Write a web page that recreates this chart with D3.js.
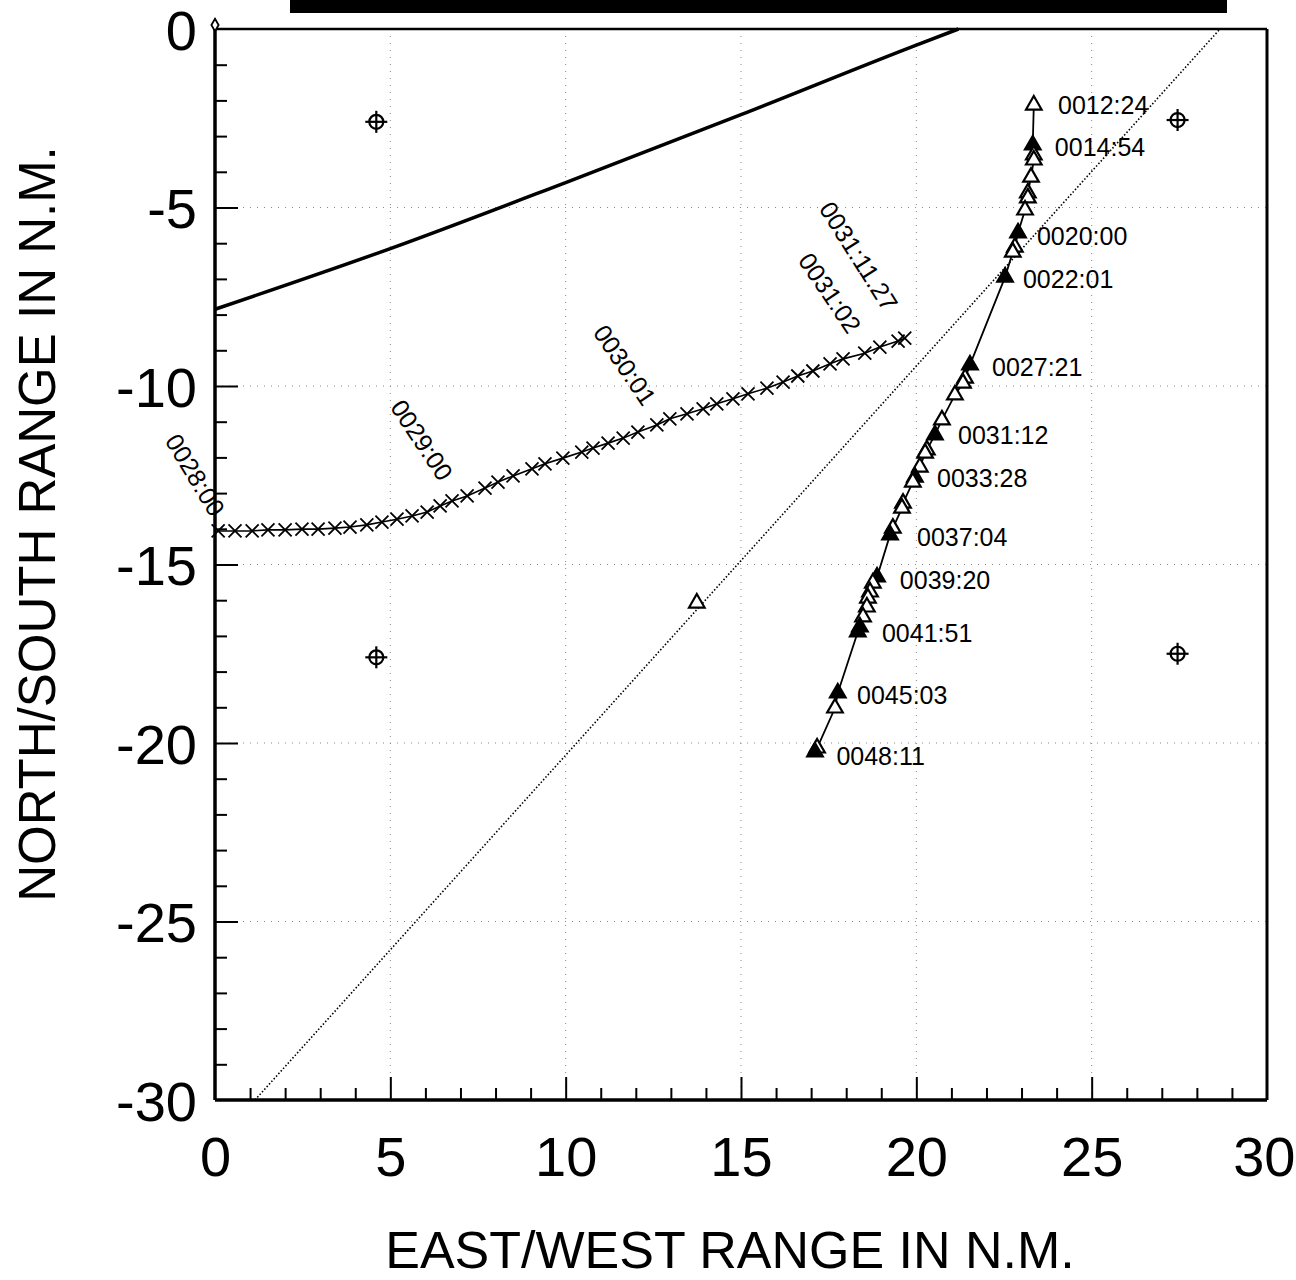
<!DOCTYPE html>
<html>
<head>
<meta charset="utf-8">
<script src="https://cdn.jsdelivr.net/npm/d3@7"></script>
<style>
  body { margin: 0; background: #fff; }
  svg { display: block; font-family: 'Liberation Sans', Arial, Helvetica, sans-serif; }
</style>
</head>
<body>
<script>
// ranges in N.M. (east/west on x, north/south on y)
var xTicks = [0, 5, 10, 15, 20, 25, 30]
var yTicks = [0, -5, -10, -15, -20, -25, -30]

// heavy solid line at the top
var boundaryX = [0, 5, 10, 15, 20, 21.2]
var boundaryY = [-7.85, -6.15, -4.3, -2.4, -0.45, 0]

// dotted straight line, with its single triangle
var dottedX = [1.14, 28.66]
var dottedY = [-30, 0]
var dottedMarkX = [13.74]
var dottedMarkY = [-16.08]

// track plotted with x marks
var crossX = [0.09, 0.57, 1.06, 1.51, 2.0, 2.48, 2.94, 3.42, 3.85, 4.33, 4.76, 5.19, 5.62, 6.05,
  6.42, 6.76, 7.19, 7.7, 8.07, 8.5, 9.04, 9.41, 9.92, 10.46, 10.78, 11.21, 11.64, 12.06, 12.6,
  12.97, 13.46, 13.92, 14.31, 14.77, 15.2, 15.74, 16.2, 16.62, 17.05, 17.54, 17.91, 18.53,
  18.96, 19.48, 19.67]
var crossY = [-14.06, -14.06, -14.06, -14.03, -14.03, -14.01, -14.01, -13.98, -13.95, -13.89,
  -13.81, -13.73, -13.64, -13.53, -13.36, -13.22, -13.08, -12.86, -12.69, -12.52, -12.32,
  -12.18, -12.02, -11.85, -11.74, -11.6, -11.46, -11.29, -11.09, -10.92, -10.78, -10.64,
  -10.5, -10.36, -10.22, -10.06, -9.89, -9.72, -9.58, -9.38, -9.24, -9.08, -8.91, -8.74, -8.66]
var crossLabels = ['0028:00', '0029:00', '0030:01', '0031:02', '0031:11.27']
var crossLabelX = [-0.56, 5.9, 11.69, 17.54, 18.36]
var crossLabelY = [-12.49, -11.51, -9.41, -7.39, -6.36]
var crossLabelAngle = [59, 56.5, 56, 56, 57.6]

// track plotted with triangles (1 = filled)
var triX = [23.35, 23.32, 23.35, 23.35, 23.27, 23.18, 23.18, 23.1, 22.9, 22.81, 22.75, 22.53,
  21.53, 21.39, 21.33, 21.1, 20.73, 20.53, 20.3, 20.25, 20.1, 19.96, 19.9, 19.62, 19.59, 19.33,
  19.25, 18.88, 18.76, 18.68, 18.62, 18.59, 18.48, 18.39, 18.33, 17.76, 17.68, 17.17, 17.11]
var triY = [-2.13, -3.25, -3.53, -3.67, -4.15, -4.59, -4.73, -5.07, -5.71, -6.11, -6.25, -6.95,
  -9.41, -9.78, -9.92, -10.25, -10.95, -11.37, -11.79, -11.88, -12.27, -12.55, -12.69, -13.28,
  -13.42, -13.98, -14.17, -15.35, -15.52, -15.77, -15.94, -16.19, -16.47, -16.75, -16.89,
  -18.6, -19.02, -20.14, -20.25]
var triFilled = [0, 1, 0, 0, 0, 0, 0, 0, 1, 0, 0, 1, 1, 0, 0, 0, 0, 1, 0, 0, 0, 1, 0, 0, 0, 0,
  1, 1, 0, 0, 0, 0, 0, 1, 1, 1, 0, 0, 1]
var triLabels = ['0012:24', '0014:54', '0020:00', '0022:01', '0027:21', '0031:12', '0033:28',
  '0037:04', '0039:20', '0041:51', '0045:03', '0048:11']
var triLabelX = [24.04, 23.95, 23.44, 23.04, 22.16, 21.19, 20.59, 20.02, 19.53, 19.02, 18.31, 17.72]
var triLabelY = [-2.13, -3.31, -5.8, -7.0, -9.47, -11.37, -12.58, -14.23, -15.43, -16.92, -18.66, -20.36]

// reference crosshairs
var refX = [4.6, 27.45, 4.6, 27.45]
var refY = [-2.6, -2.55, -17.6, -17.5]

var width = 1296
var height = 1280

var x = d3.scaleLinear().domain([0, 30]).range([215, 1267])
var y = d3.scaleLinear().domain([-30, 0]).range([1100, 29])

var svg = d3.select('body').append('svg')
  .attr('width', width)
  .attr('height', height)

// remnant of a title box at the very top
svg.append('rect')
  .attr('x', 290).attr('y', 0)
  .attr('width', 937).attr('height', 13)
  .attr('fill', '#000')

// dotted grid at the major ticks
var grid = svg.append('g')
  .attr('stroke', '#888')
  .attr('stroke-width', 1)
  .attr('stroke-dasharray', '1,6')
grid.selectAll('.gx').data(xTicks.slice(1, -1)).enter().append('line')
  .attr('x1', function (d) { return x(d) }).attr('x2', function (d) { return x(d) })
  .attr('y1', y(0)).attr('y2', y(-30))
grid.selectAll('.gy').data(yTicks.slice(1, -1)).enter().append('line')
  .attr('y1', function (d) { return y(d) }).attr('y2', function (d) { return y(d) })
  .attr('x1', x(0)).attr('x2', x(30))

// minor and major ticks, pointing inwards
var minor = d3.range(1, 30).filter(function (d) { return d % 5 })
var major = [5, 10, 15, 20, 25]

function styleTicks (g) {
  g.select('.domain').remove()
  g.selectAll('line').attr('stroke', '#000').attr('stroke-width', 2)
}

svg.append('g').attr('transform', 'translate(0,' + y(-30) + ')')
  .call(d3.axisBottom(x).tickValues(minor).tickSize(-12).tickFormat(''))
  .call(styleTicks)
svg.append('g').attr('transform', 'translate(0,' + y(-30) + ')')
  .call(d3.axisBottom(x).tickValues(major).tickSize(-23).tickFormat(''))
  .call(styleTicks)
svg.append('g').attr('transform', 'translate(' + x(0) + ',0)')
  .call(d3.axisLeft(y).tickValues(minor.map(function (d) { return -d })).tickSize(-12).tickFormat(''))
  .call(styleTicks)
svg.append('g').attr('transform', 'translate(' + x(0) + ',0)')
  .call(d3.axisLeft(y).tickValues(major.map(function (d) { return -d })).tickSize(-23).tickFormat(''))
  .call(styleTicks)

// tick labels
svg.append('g').attr('transform', 'translate(0,' + y(-30) + ')')
  .call(d3.axisBottom(x).tickValues(xTicks).tickSize(0).tickPadding(36).tickFormat(d3.format('d')))
  .call(function (g) {
    g.select('.domain').remove()
    g.selectAll('text').attr('font-size', 56).attr('font-family', null).attr('fill', '#000')
      .filter(function (d) { return d === 30 })
      .attr('text-anchor', 'end')
      .attr('dx', 28)
  })
svg.append('g').attr('transform', 'translate(' + x(0) + ',0)')
  .call(d3.axisLeft(y).tickValues(yTicks).tickSize(0).tickPadding(18).tickFormat(d3.format('d')))
  .call(function (g) {
    g.select('.domain').remove()
    g.selectAll('text').attr('font-size', 56).attr('font-family', null).attr('fill', '#000')
      .attr('dy', '0.36em')
      .text(function (d) { return d === 0 ? '0' : '-' + Math.abs(d) })
  })

// frame
svg.append('line').attr('x1', x(0)).attr('x2', x(0)).attr('y1', y(0)).attr('y2', y(-30))
  .attr('stroke', '#000').attr('stroke-width', 3.5)
svg.append('line').attr('x1', x(0)).attr('x2', x(30)).attr('y1', y(-30)).attr('y2', y(-30))
  .attr('stroke', '#000').attr('stroke-width', 3.5)
svg.append('line').attr('x1', x(0)).attr('x2', x(30)).attr('y1', y(0)).attr('y2', y(0))
  .attr('stroke', '#000').attr('stroke-width', 2.5)
svg.append('line').attr('x1', x(30)).attr('x2', x(30)).attr('y1', y(0)).attr('y2', y(-30))
  .attr('stroke', '#000').attr('stroke-width', 3)

// axis titles
svg.append('text')
  .attr('x', 730).attr('y', 1268)
  .attr('text-anchor', 'middle')
  .attr('font-size', 52)
  .text('EAST/WEST RANGE IN N.M.')
svg.append('text')
  .attr('transform', 'translate(55,524) rotate(-90)')
  .attr('text-anchor', 'middle')
  .attr('font-size', 51)
  .text('NORTH/SOUTH RANGE IN N.M.')

var line = d3.line()
  .x(function (d) { return x(d[0]) })
  .y(function (d) { return y(d[1]) })

// heavy boundary
svg.append('path')
  .datum(d3.zip(boundaryX, boundaryY))
  .attr('d', line.curve(d3.curveMonotoneX))
  .attr('fill', 'none').attr('stroke', '#000').attr('stroke-width', 3.5)
line.curve(d3.curveLinear)

// dotted line
svg.append('path')
  .datum(d3.zip(dottedX, dottedY))
  .attr('d', line)
  .attr('fill', 'none').attr('stroke', '#000').attr('stroke-width', 1.6)
  .attr('stroke-dasharray', '1.5,2')

var tri = d3.symbol(d3.symbolTriangle, 105)
svg.selectAll('.dmark').data(d3.zip(dottedMarkX, dottedMarkY)).enter().append('path')
  .attr('transform', function (d) { return 'translate(' + x(d[0]) + ',' + y(d[1]) + ')' })
  .attr('d', tri)
  .attr('fill', '#fff').attr('stroke', '#000').attr('stroke-width', 2.2)

// crosshairs
var ref = svg.selectAll('.ref').data(d3.zip(refX, refY)).enter().append('g')
  .attr('transform', function (d) { return 'translate(' + x(d[0]) + ',' + y(d[1]) + ')' })
  .attr('stroke', '#000').attr('stroke-width', 2.2).attr('fill', 'none')
ref.append('circle').attr('r', 7)
ref.append('line').attr('x1', -11).attr('x2', 11)
ref.append('line').attr('y1', -11).attr('y2', 11)

// start mark at the origin
svg.append('path')
  .attr('transform', 'translate(' + x(0) + ',' + (y(0) - 4) + ')')
  .attr('d', d3.symbol(d3.symbolDiamond, 45))
  .attr('fill', '#fff').attr('stroke', '#000').attr('stroke-width', 1.8)

// x-mark track
svg.append('path')
  .datum(d3.zip(crossX, crossY))
  .attr('d', line)
  .attr('fill', 'none').attr('stroke', '#000').attr('stroke-width', 1.6)
svg.selectAll('.xmark').data(d3.zip(crossX, crossY)).enter().append('path')
  .attr('transform', function (d) { return 'translate(' + x(d[0]) + ',' + y(d[1]) + ')' })
  .attr('d', d3.symbol(d3.symbolTimes, 112))
  .attr('fill', 'none').attr('stroke', '#000').attr('stroke-width', 1.8)
svg.selectAll('.xlab').data(crossLabels).enter().append('text')
  .attr('transform', function (d, i) {
    return 'translate(' + x(crossLabelX[i]) + ',' + y(crossLabelY[i]) + ') rotate(' + crossLabelAngle[i] + ')'
  })
  .attr('text-anchor', 'middle')
  .attr('dominant-baseline', 'central')
  .attr('font-size', 25)
  .text(function (d) { return d })

// triangle track
svg.append('path')
  .datum(d3.zip(triX, triY))
  .attr('d', line)
  .attr('fill', 'none').attr('stroke', '#000').attr('stroke-width', 1.8)
svg.selectAll('.tmark').data(d3.zip(triX, triY, triFilled)).enter().append('path')
  .attr('transform', function (d) { return 'translate(' + x(d[0]) + ',' + y(d[1]) + ')' })
  .attr('d', tri)
  .attr('fill', function (d) { return d[2] ? '#000' : '#fff' })
  .attr('stroke', '#000').attr('stroke-width', 2.2)
svg.selectAll('.tlab').data(triLabels).enter().append('text')
  .attr('x', function (d, i) { return x(triLabelX[i]) })
  .attr('y', function (d, i) { return y(triLabelY[i]) })
  .attr('dominant-baseline', 'central')
  .attr('font-size', 25)
  .text(function (d) { return d })
</script>
</body>
</html>
